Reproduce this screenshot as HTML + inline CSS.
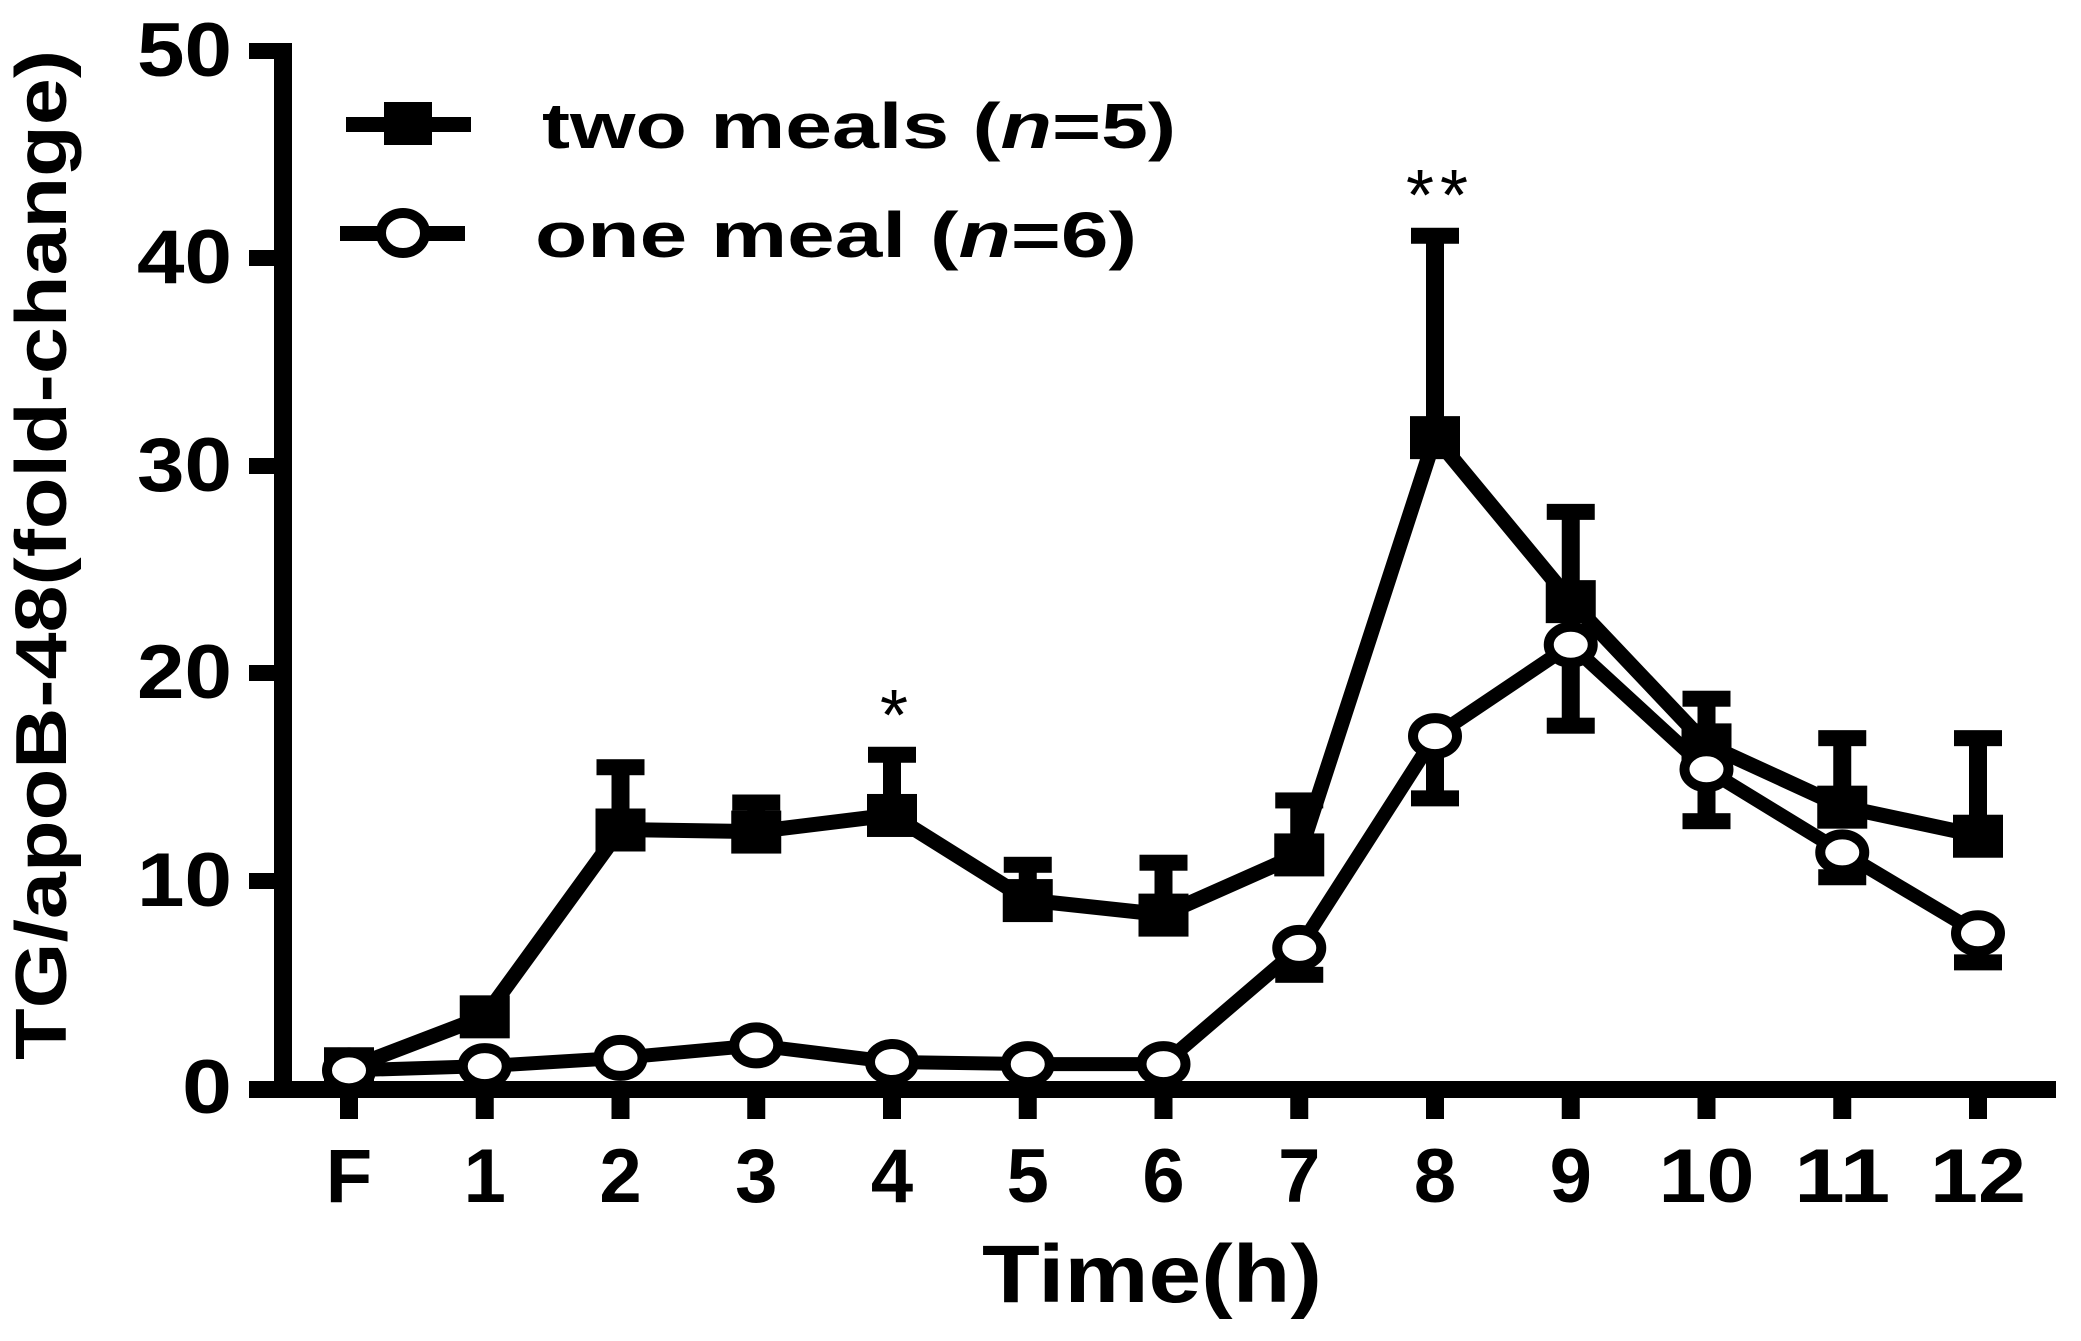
<!DOCTYPE html>
<html><head><meta charset="utf-8"><style>
html,body{margin:0;padding:0;background:#fff;}
svg{display:block;}
text{font-family:"Liberation Sans",Arial,sans-serif;font-weight:bold;fill:#000;}
</style></head><body>
<svg width="2081" height="1341" viewBox="0 0 2081 1341" xmlns="http://www.w3.org/2000/svg">
<g fill="#000">
<rect x="274" y="43" width="18" height="1055"/>
<rect x="249" y="1081" width="1807" height="17"/>
<rect x="249" y="43" width="30" height="16"/>
<rect x="249" y="250" width="30" height="16"/>
<rect x="249" y="458" width="30" height="16"/>
<rect x="249" y="665" width="30" height="16"/>
<rect x="249" y="873" width="30" height="16"/>
</g>
<g id="xt" fill="#000"></g>
<g font-size="76" text-anchor="end">
<text x="232" y="76" textLength="95" lengthAdjust="spacingAndGlyphs">50</text>
<text x="232" y="283" textLength="95" lengthAdjust="spacingAndGlyphs">40</text>
<text x="232" y="491" textLength="95" lengthAdjust="spacingAndGlyphs">30</text>
<text x="232" y="698" textLength="95" lengthAdjust="spacingAndGlyphs">20</text>
<text x="232" y="906" textLength="95" lengthAdjust="spacingAndGlyphs">10</text>
<text x="232" y="1113" textLength="50" lengthAdjust="spacingAndGlyphs">0</text>
</g>
<text transform="translate(66,555) rotate(-90)" font-size="72" text-anchor="middle" textLength="1010" lengthAdjust="spacingAndGlyphs">TG/apoB-48(fold-change)</text>
<text x="1152" y="1302" font-size="82" text-anchor="middle" textLength="340" lengthAdjust="spacingAndGlyphs">Time(h)</text>
<rect x="346" y="117" width="125" height="15" fill="#000"/>
<rect x="384" y="102" width="48" height="43" fill="#000"/>
<rect x="340" y="226" width="125" height="15" fill="#000"/>
<ellipse cx="403" cy="233" rx="22" ry="20" fill="#fff" stroke="#000" stroke-width="10"/>
<text x="542" y="148" font-size="64" textLength="634" lengthAdjust="spacingAndGlyphs">two meals (<tspan font-style="italic">n</tspan>=5)</text>
<text x="535" y="257" font-size="64" textLength="602" lengthAdjust="spacingAndGlyphs">one meal (<tspan font-style="italic">n</tspan>=6)</text>
<text x="894" y="740" font-size="72" text-anchor="middle" style="font-weight:normal">*</text>
<text x="1440" y="220" font-size="72" text-anchor="middle" style="font-weight:normal" letter-spacing="6">**</text>
<g id="plot"></g>
</svg>
<script>
(function(){
var ns="http://www.w3.org/2000/svg";
function X(i){return 349+i*135.75;}
function Y(v){return 1089-v*20.76;}
function el(n,a,p){var e=document.createElementNS(ns,n);for(var k in a)e.setAttribute(k,a[k]);(p||document.getElementById('plot')).appendChild(e);return e;}
var xt=document.getElementById('xt');
var labs=["F","1","2","3","4","5","6","7","8","9","10","11","12"];
var svg=document.querySelector('svg');
for(var i=0;i<13;i++){
 el('rect',{x:X(i)-9,y:1090,width:18,height:29,fill:'#000'},xt);
 var t=el('text',{x:X(i),y:1202,'font-size':76,'text-anchor':'middle'},svg);
 t.textContent=labs[i];
 if(labs[i].length==2){t.setAttribute('textLength',96);t.setAttribute('lengthAdjust','spacingAndGlyphs');}
}
var two=[1.0,3.5,12.5,12.4,13.2,9.1,8.4,11.3,31.4,23.5,16.6,13.6,12.2];
var twoU=[null,null,15.5,13.8,16.1,10.8,10.9,13.9,41.1,27.8,18.8,16.9,16.9];
var one=[0.9,1.1,1.5,2.1,1.3,1.2,1.2,6.8,17.0,21.4,15.4,11.4,7.5];
var oneL=[null,null,null,null,null,null,null,5.5,14.0,17.5,12.9,10.2,6.1];
for(var i=0;i<13;i++){
 if(twoU[i]!==null){
  el('rect',{x:X(i)-9,y:Y(twoU[i]),width:18,height:Y(two[i])-Y(twoU[i]),fill:'#000'});
  el('rect',{x:X(i)-24,y:Y(twoU[i])-8,width:48,height:16,fill:'#000'});
 }
 if(oneL[i]!==null){
  el('rect',{x:X(i)-9,y:Y(one[i]),width:18,height:Y(oneL[i])-Y(one[i]),fill:'#000'});
  el('rect',{x:X(i)-24,y:Y(oneL[i])-8,width:48,height:16,fill:'#000'});
 }
}
function pts(a){return a.map(function(v,i){return X(i)+','+Y(v);}).join(' ');}
el('polyline',{points:pts(two),fill:'none',stroke:'#000','stroke-width':15,'stroke-linejoin':'miter'});
el('polyline',{points:pts(one),fill:'none',stroke:'#000','stroke-width':14,'stroke-linejoin':'miter'});
for(var i=0;i<13;i++){
 el('rect',{x:X(i)-25,y:Y(two[i])-21,width:50,height:43,fill:'#000'});
}
for(var i=0;i<13;i++){
 el('ellipse',{cx:X(i),cy:Y(one[i]),rx:22,ry:18,fill:'#fff',stroke:'#000','stroke-width':10});
}
})();
</script>
</body></html>
